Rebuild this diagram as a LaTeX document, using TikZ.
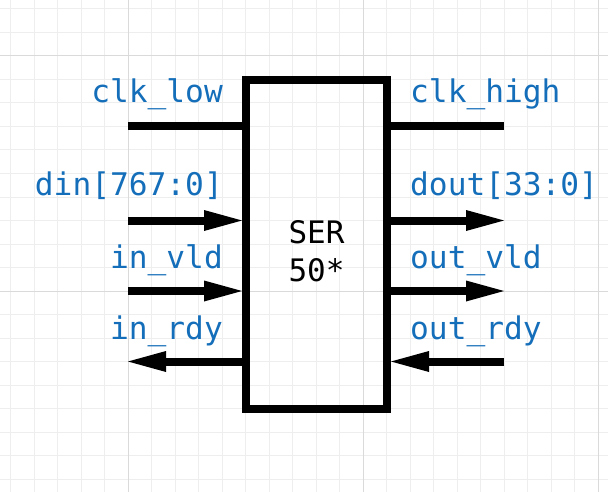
\documentclass[tikz,border=0pt]{standalone}
\usepackage{fontspec}
\newfontfamily\monof{DejaVu Sans Mono}
\usetikzlibrary{arrows.meta}
\definecolor{lblblue}{RGB}{20,110,185}
\definecolor{gridminor}{RGB}{238,238,238}
\definecolor{gridmajor}{RGB}{218,218,218}
\begin{document}
\begin{tikzpicture}[x=1pt,y=-1pt,
  wire/.style={line width=8pt},
  sig/.style={wire,-{Triangle[length=38pt,width=21pt,line width=0pt]}},
  lbl/.style={font=\monof\fontsize{31.2}{36}\selectfont, text=lblblue, inner sep=0pt},
  ctext/.style={font=\monof\fontsize{31}{36}\selectfont, text=black, inner sep=0pt},
  gminor/.style={draw=gridminor, line width=1pt},
  gmajor/.style={draw=gridmajor, line width=1pt}]
\useasboundingbox (0,0) rectangle (608,492);
\fill[white] (0,0) rectangle (608,492);
% grid
\foreach \i in {-5,...,20} \draw[gminor] (128+23.5*\i,0) -- (128+23.5*\i,492);
\foreach \j in {-2,...,18} \draw[gminor] (0,56+23.5*\j) -- (608,56+23.5*\j);
\foreach \i in {128,363,598} \draw[gmajor] (\i,0) -- (\i,492);
\foreach \j in {56,291} \draw[gmajor] (0,\j) -- (608,\j);
% box
\node[draw, line width=8pt, minimum width=141pt, minimum height=328.5pt, inner sep=0pt] (box) at (316.5,244.25) {};
\node[ctext, anchor=base] (t1) at (316.5,243.3) {SER};
\node[ctext, anchor=base] (t2) at (316.5,281.7) {50*};
% free ends
\coordinate (clkl) at (128,126.5);
\coordinate (dinl) at (128,220.5);
\coordinate (vldl) at (128,291);
\coordinate (rdyl) at (128,361.5);
\coordinate (clkh) at (504,126.5);
\coordinate (douth) at (504,220.5);
\coordinate (vldh) at (504,291);
\coordinate (rdyh) at (504,361.5);
% connectors
\draw[wire] (clkl) -- (clkl -| box.west);
\draw[sig] (dinl) -- (dinl -| box.west);
\draw[sig] (vldl) -- (vldl -| box.west);
\draw[sig] (rdyl -| box.west) -- (rdyl);
\draw[wire] (clkh -| box.east) -- (clkh);
\draw[sig] (douth -| box.east) -- (douth);
\draw[sig] (vldh -| box.east) -- (vldh);
\draw[sig] (rdyh) -- (rdyh -| box.east);
% labels
\node[lbl, anchor=base east] (lclk) at (223,103) {clk\_low};
\node[lbl, anchor=base east] (ldin) at (223,195) {din[767:0]};
\node[lbl, anchor=base east] (lvld) at (223,268) {in\_vld};
\node[lbl, anchor=base east] (lrdy) at (223,339) {in\_rdy};
\node[lbl, anchor=base west] (rclk) at (410,103) {clk\_high};
\node[lbl, anchor=base west] (rdout) at (410,195) {dout[33:0]};
\node[lbl, anchor=base west] (rvld) at (410,268) {out\_vld};
\node[lbl, anchor=base west] (rrdy) at (410,339) {out\_rdy};
\end{tikzpicture}
\end{document}
